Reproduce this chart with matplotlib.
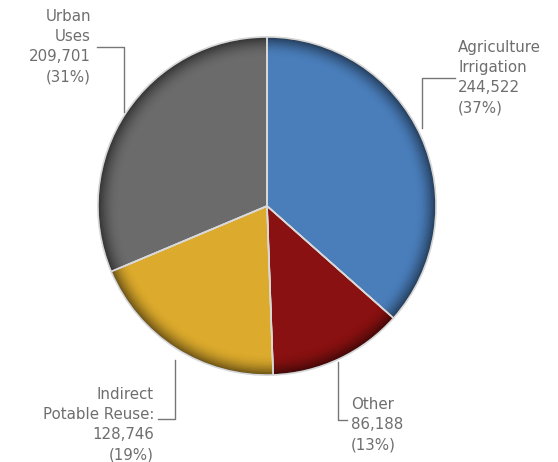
import matplotlib.pyplot as plt
from matplotlib.patches import Wedge

labels = ["Agriculture\nIrrigation", "Other", "Indirect\nPotable Reuse:", "Urban\nUses"]
values = [244522, 86188, 128746, 209701]
percents = [37, 13, 19, 31]
colors = ["#4a7ebb", "#8a1111", "#dcaa2c", "#6b6b6b"]

W, H = 558, 462
fig = plt.figure(figsize=(W / 100, H / 100), dpi=100)
ax = fig.add_axes([0, 0, 1, 1])

cx, cy, r = 267, H - 206, 169

wedges, _ = ax.pie(values, colors=colors, startangle=90, counterclock=False,
                   center=(cx, cy), radius=r, frame=True,
                   wedgeprops=dict(edgecolor="#e0e0e0", linewidth=1.2))
ax.set_xlim(0, W)
ax.set_ylim(0, H)
ax.set_aspect("equal")
ax.axis("off")

# darker rim for the bevelled look
n = 14
for w in wedges:
    for i in range(n):
        rr = r - i * 1.4
        ax.add_patch(Wedge((cx, cy), rr, w.theta1, w.theta2, width=1.5,
                           facecolor="black", alpha=0.5 * ((n - i) / n) ** 2,
                           edgecolor="none", zorder=3))
for w in wedges:
    ax.add_patch(Wedge((cx, cy), r, w.theta1, w.theta2, fill=False,
                       edgecolor="#d8d8d8", linewidth=1.0, zorder=4))

txt = dict(color="#6e6e6e", fontsize=10.8, linespacing=1.42, family="DejaVu Sans")
lc = "#777777"

def lab(i):
    return "%s\n%s\n(%d%%)" % (labels[i], format(values[i], ","), percents[i])

# Agriculture Irrigation
ax.text(458, H - 40, lab(0), ha="left", va="top", **txt)
ax.plot([455, 422, 422], [H - 78, H - 78, H - 128], color=lc, lw=1)
# Other
ax.text(351, H - 397, lab(1), ha="left", va="top", **txt)
ax.plot([347, 338, 338], [H - 420, H - 420, H - 362], color=lc, lw=1)
# Indirect Potable Reuse
ax.text(154, H - 387, lab(2), ha="right", va="top", **txt)
ax.plot([158, 175, 175], [H - 419, H - 419, H - 360], color=lc, lw=1)
# Urban Uses
ax.text(91, H - 9, lab(3), ha="right", va="top", **txt)
ax.plot([97, 124, 124], [H - 47, H - 47, H - 112], color=lc, lw=1)

fig.savefig("out.png", dpi=100)
